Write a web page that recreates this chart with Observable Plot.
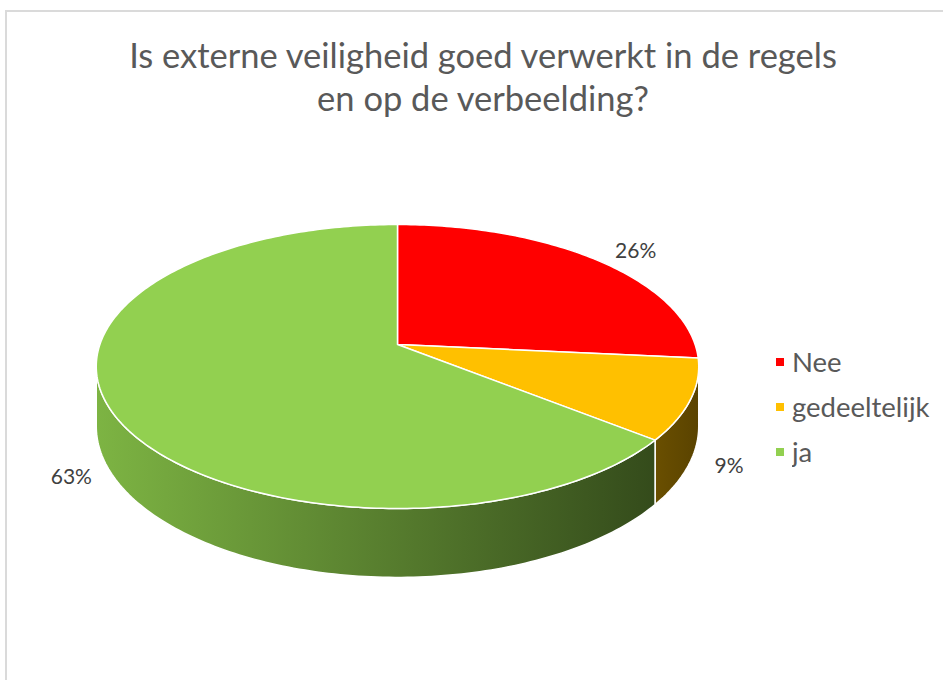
<!DOCTYPE html>
<html>
<head>
<meta charset="utf-8">
<script src="https://cdn.jsdelivr.net/npm/d3@7"></script>
<script src="https://cdn.jsdelivr.net/npm/@observablehq/plot@0.6"></script>
<style>
  html, body { margin: 0; padding: 0; background: #fff; }
  #wrap { position: relative; width: 943px; height: 680px; overflow: hidden; font-family: Lato, "Open Sans", sans-serif; }
  #frame { position: absolute; left: 5px; top: 10px; width: 1200px; height: 1200px; border: 2px solid #dadada; box-sizing: border-box; }
  #title { position: absolute; left: 0; top: 33px; width: 966px; text-align: center; font-size: 34.5px; line-height: 43px; color: #595959; }
  #chart { position: absolute; left: 0; top: 0; }
  #legend { position: absolute; left: 776px; top: 345px; }
  .lg-swatch { padding-bottom: 12px !important; }
  .lg-swatch svg { margin-right: 8px !important; }
</style>
</head>
<body>
<div id="wrap">
  <div id="frame"></div>
  <div id="chart"></div>
  <div id="title">Is externe veiligheid goed verwerkt in de regels<br>en op de verbeelding?</div>
  <div id="legend"></div>
</div>
<script>
// ---- data ----
const categories = ["Nee", "gedeeltelijk", "ja"];
const values = [26, 9, 63];
const labels = ["26%", "9%", "63%"];
const topColors = ["#FF0000", "#FFC000", "#92D050"];
const sideStart = ["#b00000", "#6a4f00", "#7db443"];
const sideEnd = ["#6e0000", "#5a4300", "#344b1b"];

// ---- 3D perspective pie model ----
const K = 0.155;          // perspective strength
const DEPTH = 0.42;       // side thickness (in vertical unit radii)
const STEP = Math.PI / 180;
function proj(theta, r, drop) {
  const d = 1 + K * r * Math.cos(theta);
  return {u: r * Math.sin(theta) / d, v: (r * Math.cos(theta) - drop * DEPTH) / d};
}
const arcs = d3.pie().sort(null).value(d => d.value).startAngle(0).endAngle(2 * Math.PI)(
  categories.map((c, i) => ({cat: c, value: values[i], label: labels[i], i}))
);
function sweep(a0, a1) {
  const n = Math.max(2, Math.ceil((a1 - a0) / STEP));
  return d3.range(n + 1).map(k => a0 + (a1 - a0) * k / n);
}
// top faces
const topPts = [];
for (const a of arcs) {
  const c = {cat: a.data.cat, u: 0, v: 0};
  topPts.push(c);
  for (const t of sweep(a.startAngle, a.endAngle)) topPts.push({cat: a.data.cat, ...proj(t, 1, 0)});
  topPts.push({...c});
}
// visible side faces (front half, between silhouettes)
const thR = Math.acos(-K), thL = 2 * Math.PI - thR;
const sides = [];
for (const a of arcs) {
  const s = Math.max(a.startAngle, thR), e = Math.min(a.endAngle, thL);
  if (s >= e) continue;
  const ts = sweep(s, e);
  const pts = ts.map(t => ({cat: a.data.cat, ...proj(t, 1, 0)}))
    .concat(ts.slice().reverse().map(t => ({cat: a.data.cat, ...proj(t, 1, 1)})));
  pts.push({...pts[0]});
  sides.push({i: a.data.i, pts});
}
// label positions: just outside the rim (bottom rim for front slices)
const labelPts = arcs.map(a => {
  const m = (a.startAngle + a.endAngle) / 2;
  const front = Math.cos(m) < 0;
  const p = proj(m, 1, front ? 1 : 0);
  return {label: a.data.label, u: p.u + Math.sign(Math.sin(m)) * 0.13, v: p.v + Math.cos(m) * 0.1};
});

const plot = Plot.plot({
  width: 943, height: 680,
  margin: 0,
  x: {domain: [-1, 1], range: [99.4, 694.6], axis: null},
  y: {domain: [-1, 1], range: [482.6, 205.4], axis: null},
  color: {domain: categories, range: topColors},
  marks: [
    ...sides.map(s => Plot.line(s.pts, {x: "u", y: "v", fill: `url(#side${s.i})`, stroke: "white", strokeWidth: 1.5, strokeLinejoin: "round"})),
    Plot.line(topPts, {x: "u", y: "v", z: "cat", fill: "cat", stroke: "white", strokeWidth: 1.5, strokeLinejoin: "round"}),
    Plot.text(labelPts, {x: "u", y: "v", text: "label", fontSize: 21, fill: "#404040", fontFamily: "Lato, sans-serif"})
  ]
});
const ns = "http://www.w3.org/2000/svg";
const defs = document.createElementNS(ns, "defs");
categories.forEach((c, i) => {
  const g = document.createElementNS(ns, "linearGradient");
  g.setAttribute("id", "side" + i);
  g.setAttribute("x1", "0"); g.setAttribute("x2", "1"); g.setAttribute("y1", "0"); g.setAttribute("y2", "0");
  [[0, sideStart[i]], [1, sideEnd[i]]].forEach(([o, col]) => {
    const st = document.createElementNS(ns, "stop");
    st.setAttribute("offset", o); st.setAttribute("stop-color", col);
    g.appendChild(st);
  });
  defs.appendChild(g);
});
plot.insertBefore(defs, plot.firstChild);
document.getElementById("chart").appendChild(plot);

const legend = Plot.legend({
  color: {domain: categories, range: topColors},
  legend: "swatches", columns: 1, swatchSize: 8, className: "lg",
  style: {fontSize: "27.5px", color: "#595959", fontFamily: "Lato, sans-serif"}
});
document.getElementById("legend").appendChild(legend);
</script>
</body>
</html>
